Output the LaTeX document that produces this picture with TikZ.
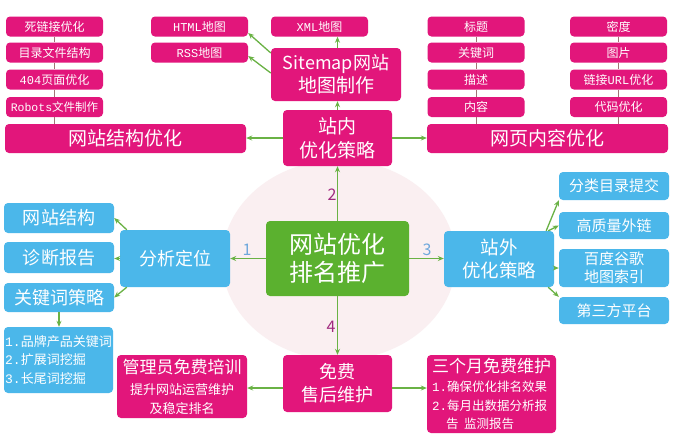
\documentclass[tikz,border=0pt]{standalone}
\usepackage{fontspec}
\setmainfont{Noto Sans CJK SC}
\newfontfamily\mono{Liberation Mono}
\usetikzlibrary{arrows.meta,calc}
\definecolor{mag}{HTML}{E2167B}
\definecolor{sky}{HTML}{4BB7EA}
\definecolor{grn}{HTML}{5BB12F}
\definecolor{agreen}{HTML}{6AB245}
\definecolor{stem}{HTML}{A07474}
\definecolor{halo}{HTML}{FAEFF1}
\definecolor{numpk}{HTML}{A02A7E}
\definecolor{numbl}{HTML}{6FA8DC}
\newcommand{\fs}[1]{\fontsize{#1}{#1}\selectfont}
\newcommand{\fl}[2]{\fontsize{#1}{#2}\selectfont}
\tikzset{
  box/.style={rounded corners=4pt, inner sep=0pt, text=white, align=center},
  pk/.style={box, fill=mag},
  bl/.style={box, fill=sky},
  small/.style={pk, minimum width=97pt, minimum height=20pt, font=\fs{12}},
  ar/.style={draw=agreen, line width=1.3pt, -{Stealth[length=6pt,width=5pt]}},
  ln/.style={draw=stem, line width=1pt},
  numlab/.style={font=\fs{16}, inner sep=0pt}
}
\begin{document}
\begin{tikzpicture}[x=1pt,y=-1pt]
\fill[white] (0,0) rectangle (677,440);
\useasboundingbox (0,0) rectangle (677,440);
\fill[halo] (339,260) ellipse [x radius=117, y radius=100];

% top-left stack
\node[small] (s1) at (54.5,26.5) {死链接优化};
\node[small] (s2) at (54.5,52.5) {目录文件结构};
\node[small] (s3) at (54.5,79.5) {{\mono 404}页面优化};
\node[small, font=\fs{11.5}] (s4) at (54.5,107) {{\mono Robots}文件制作};
\node[pk, minimum width=241pt, minimum height=29pt, font=\fs{19}] (jg) at (125.5,138.5) {网站结构优化};
\draw[ln] (s1) -- (s2); \draw[ln] (s2) -- (s3); \draw[ln] (s3) -- (s4); \draw[ln] (s4.south) -- (s4.south |- jg.north);

% sitemap
\node[small] (html) at (199.5,26.5) {{\mono HTML}地图};
\node[small] (rss) at (199.5,52.5) {{\mono RSS}地图};
\node[small] (xml) at (319.5,26.5) {{\mono XML}地图};
\node[pk, minimum width=130pt, minimum height=53pt, font=\fl{19}{23}] (sm) at (336,74.5) {\fl{18}{23}Sitemap网站\\\fl{19}{23}地图制作};
\node[pk, minimum width=109pt, minimum height=56pt, font=\fl{19}{24}] (zn) at (337.5,138) {\fl{19}{24}站内\\\fl{19}{24}优化策略};

% right stacks
\node[small] (t1) at (476,26.5) {标题};
\node[small] (t2) at (476,52.5) {关键词};
\node[small] (t3) at (476,79.5) {描述};
\node[small] (t4) at (476,107) {内容};
\node[small] (u1) at (618.5,26.5) {密度};
\node[small] (u2) at (618.5,52.5) {图片};
\node[small] (u3) at (618.5,79.5) {链接{\mono URL}优化};
\node[small] (u4) at (618.5,107) {代码优化};
\node[pk, minimum width=241pt, minimum height=29pt, font=\fs{19}] (nr) at (547.5,138.5) {网页内容优化};
\draw[ln] (t1) -- (t2); \draw[ln] (t2) -- (t3); \draw[ln] (t3) -- (t4); \draw[ln] (t4.south) -- (t4.south |- nr.north);
\draw[ln] (u1) -- (u2); \draw[ln] (u2) -- (u3); \draw[ln] (u3) -- (u4); \draw[ln] (u4.south) -- (u4.south |- nr.north);

% center
\node[box, fill=grn, minimum width=143pt, minimum height=75pt, font=\fl{24}{28}] (ctr) at (337.5,258.5) {\fl{24}{28}网站优化\\\fl{24}{28}排名推广};

% left branch
\node[bl, minimum width=110pt, minimum height=57pt, font=\fs{18}] (fx) at (175,258.5) {分析定位};
\node[bl, minimum width=110pt, minimum height=30pt, font=\fs{18}] (wz) at (59,218) {网站结构};
\node[bl, minimum width=110pt, minimum height=31pt, font=\fs{18}] (zd) at (59,257.5) {诊断报告};
\node[bl, minimum width=110pt, minimum height=29pt, font=\fs{18}] (gjc) at (59,297.5) {关键词策略};
\node[bl, minimum width=109pt, minimum height=66pt, align=left, font=\fl{13}{18.5}] (lst) at (58.5,360) {\fl{13}{18.5}{\mono 1.}品牌产品关键词\\\fl{13}{18.5}{\mono 2.}扩展词挖掘\\\fl{13}{18.5}{\mono 3.}长尾词挖掘};

% right branch
\node[bl, minimum width=110pt, minimum height=56pt, font=\fl{18.5}{23}] (zw) at (499,259) {\fl{18.5}{23}站外\\\fl{18.5}{23}优化策略};
\node[bl, minimum width=110pt, minimum height=28pt, font=\fs{15}] (fl) at (614,186) {分类目录提交};
\node[bl, minimum width=110pt, minimum height=27pt, font=\fs{15}] (gz) at (614,225.5) {高质量外链};
\node[bl, minimum width=110pt, minimum height=38pt, font=\fl{15}{18}] (bd) at (614,268) {\fl{15}{18}百度谷歌\\\fl{15}{18}地图索引};
\node[bl, minimum width=110pt, minimum height=27pt, font=\fs{15}] (dsf) at (614,310.5) {第三方平台};

% bottom branch
\node[pk, minimum width=109pt, minimum height=57pt, font=\fl{18}{23}] (mf) at (337.5,383.5) {\fl{18}{23}免费\\\fl{18}{23}售后维护};
\node[pk, minimum width=130pt, minimum height=63pt, font=\fl{13}{19}] (gl) at (182,386.5) {\fl{17}{19}管理员免费培训\\[2pt]\fl{13}{19}提升网站运营维护\\\fl{13}{19}及稳定排名};
\node[pk, minimum width=129pt, minimum height=78pt, align=left, font=\fl{12.5}{18.5}] (sg) at (491.5,394) {\fl{17}{18.5}三个月免费维护\\[1pt]\fl{12.5}{18.5}{\mono 1.}确保优化排名效果\\\fl{12.5}{18.5}{\mono 2.}每月出数据分析报\\\fl{12.5}{18.5}\hspace*{14pt}告\ \ 监测报告};

% number labels
\node[numlab, text=numpk] (n2) at (332,195) {2};
\node[numlab, text=numpk] (n4) at (331,327) {4};
\node[numlab, text=numbl] (n1) at (247,250) {1};
\node[numlab, text=numbl] (n3) at (427,250) {3};

% arrows
\draw[ar] (ctr.north) -- (zn.south);
\draw[ar] (zn.north) -- (zn.north |- sm.south);
\draw[ar] (sm.north -| zn.north) -- (zn.north |- xml.south);
\draw[ar] ([yshift=21.5pt]sm.west) -- ([yshift=-6.5pt]html.east);
\draw[ar] ([yshift=1.5pt]sm.west) -- ([yshift=-3.5pt]rss.east);
\draw[ar] (zn.west) -- (zn.west -| jg.east);
\draw[ar] (zn.east) -- (zn.east -| nr.west);
\draw[ar] (ctr.west) -- (ctr.west -| fx.east);
\draw[ar] (ctr.east) -- (ctr.east -| zw.west);
\draw[ar] (ctr.south) -- (mf.north);
\draw[ar] ([xshift=7pt]fx.north west) -- (wz.east);
\draw[ar] (fx.west) -- (fx.west -| zd.east);
\draw[ar] ([xshift=7pt]fx.south west) -- (gjc.east);
\draw[ar] (gjc.south) -- (gjc.south |- lst.north);
\draw[ar] ([xshift=-8pt]zw.north east) -- (fl.south west);
\draw[ar] ([xshift=-6pt]zw.north east) -- (gz.west);
\draw[ar] (bd.west -| zw.east) -- (bd.west);
\draw[ar] ([xshift=-6pt]zw.south east) -- (dsf.north west);
\draw[ar] ([yshift=-4.5pt]mf.west) -- ([yshift=-4.5pt]mf.west -| gl.east);
\draw[ar] ([yshift=-4.5pt]mf.east) -- ([yshift=-4.5pt]mf.east -| sg.west);
\end{tikzpicture}
\end{document}
